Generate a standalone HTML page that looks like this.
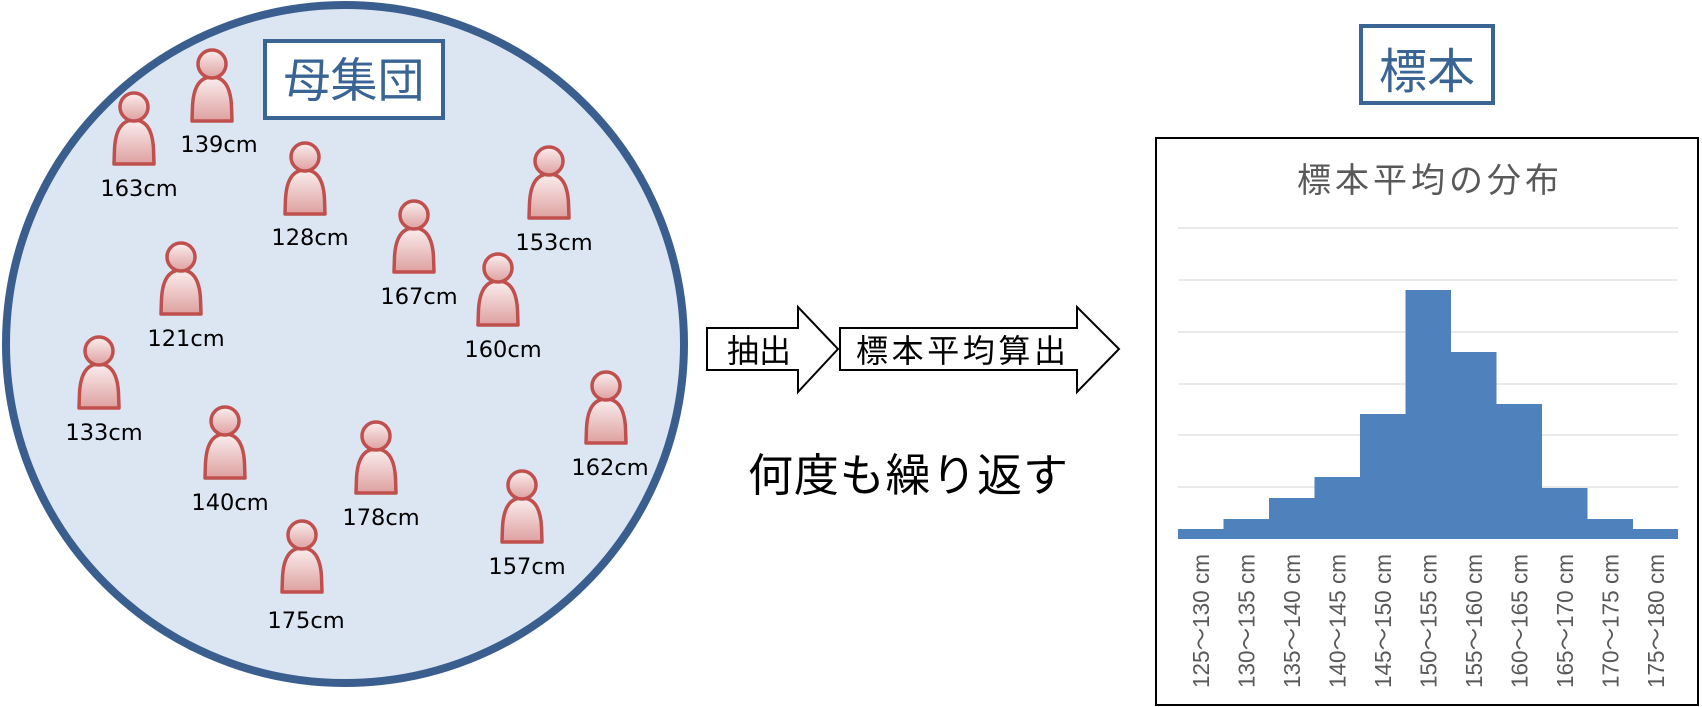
<!DOCTYPE html>
<html><head><meta charset="utf-8"><style>
html,body{margin:0;padding:0;background:#fff;}
svg{display:block;}
</style></head><body>
<svg width="1702" height="707" viewBox="0 0 1702 707" xmlns="http://www.w3.org/2000/svg">
<defs>
<linearGradient id="pg" x1="0" y1="0" x2="0" y2="1">
<stop offset="0" stop-color="#fbeeee"/><stop offset="1" stop-color="#dea0a0"/>
</linearGradient>
<g id="p">
<path d="M-20,57 L-19.5,42 Q-18,13 0,13 Q18,13 19.5,42 L20,57 Z" fill="url(#pg)" stroke="#c0504d" stroke-width="3.5" stroke-linejoin="round"/>
<circle cx="0" cy="0" r="14" fill="url(#pg)" stroke="#c0504d" stroke-width="3.5"/>
</g>
</defs>
<circle cx="345" cy="344" r="339" fill="#dce6f2" stroke="#3a5f8f" stroke-width="8"/>
<rect x="265" y="41" width="178" height="77" fill="#fff" stroke="#3a6494" stroke-width="4"/>
<text x="354" y="97" font-family="Noto Sans CJK JP, sans-serif" font-size="47" fill="#3a6494" text-anchor="middle">母集団</text>
<g font-family="DejaVu Sans, sans-serif" font-size="22.5" fill="#000" text-anchor="middle">
<use href="#p" x="212" y="64"/><text x="219" y="152">139cm</text>
<use href="#p" x="134" y="107"/><text x="139" y="196">163cm</text>
<use href="#p" x="305" y="157"/><text x="310" y="245">128cm</text>
<use href="#p" x="549" y="161"/><text x="554" y="250">153cm</text>
<use href="#p" x="414" y="215"/><text x="419" y="304">167cm</text>
<use href="#p" x="498" y="268"/><text x="503" y="357">160cm</text>
<use href="#p" x="181" y="257"/><text x="186" y="346">121cm</text>
<use href="#p" x="99" y="351"/><text x="104" y="440">133cm</text>
<use href="#p" x="225" y="421"/><text x="230" y="510">140cm</text>
<use href="#p" x="376" y="436"/><text x="381" y="525">178cm</text>
<use href="#p" x="606" y="386"/><text x="610" y="475">162cm</text>
<use href="#p" x="522" y="485"/><text x="527" y="574">157cm</text>
<use href="#p" x="302" y="535"/><text x="306" y="628">175cm</text>
</g>
<path d="M707,328 L798,328 L798,307 L838,349 L798,392 L798,370 L707,370 Z" fill="#fff" stroke="#000" stroke-width="2"/>
<path d="M840,328 L1077,328 L1077,307 L1119,349 L1077,392 L1077,370 L840,370 Z" fill="#fff" stroke="#000" stroke-width="2"/>
<g font-family="Noto Sans CJK JP, sans-serif" font-size="32" fill="#000">
<text x="727" y="362">抽出</text>
<text x="856" y="362" textLength="210" lengthAdjust="spacing">標本平均算出</text>
</g>
<text x="748" y="491" font-family="Noto Sans CJK JP, sans-serif" font-size="45" fill="#000" textLength="320" lengthAdjust="spacing">何度も繰り返す</text>
<rect x="1361" y="26" width="132" height="77" fill="#fff" stroke="#3a6494" stroke-width="4"/>
<text x="1427" y="88" font-family="Noto Sans CJK JP, sans-serif" font-size="48" fill="#3a6494" text-anchor="middle">標本</text>
<rect x="1156" y="138" width="542" height="567" fill="#fff" stroke="#000" stroke-width="2"/>
<text x="1428" y="192" font-family="Noto Sans CJK JP, sans-serif" font-size="34" fill="#595959" text-anchor="middle" textLength="262" lengthAdjust="spacing">標本平均の分布</text>
<g stroke="#e3e3e3" stroke-width="1.5">
<line x1="1178" y1="228" x2="1678" y2="228"/>
<line x1="1178" y1="280" x2="1678" y2="280"/>
<line x1="1178" y1="332" x2="1678" y2="332"/>
<line x1="1178" y1="384" x2="1678" y2="384"/>
<line x1="1178" y1="435" x2="1678" y2="435"/>
<line x1="1178" y1="487" x2="1678" y2="487"/>
</g>
<path fill="#4f81bd" d="M1178,539 L1178,529 L1223.5,529 L1223.5,519 L1269,519 L1269,498 L1314.5,498 L1314.5,477 L1360,477 L1360,414 L1405.5,414 L1405.5,290 L1451,290 L1451,352 L1496.5,352 L1496.5,404 L1542,404 L1542,488 L1587.5,488 L1587.5,519 L1633,519 L1633,529 L1678,529 L1678,539 Z"/>
<g font-family="Liberation Sans, Noto Sans CJK JP, sans-serif" font-size="23" fill="#595959" text-anchor="end">
<text transform="translate(1209,554) rotate(-90)" textLength="134" lengthAdjust="spacingAndGlyphs">125～130 cm</text>
<text transform="translate(1254.5,554) rotate(-90)" textLength="134" lengthAdjust="spacingAndGlyphs">130～135 cm</text>
<text transform="translate(1300,554) rotate(-90)" textLength="134" lengthAdjust="spacingAndGlyphs">135～140 cm</text>
<text transform="translate(1345.5,554) rotate(-90)" textLength="134" lengthAdjust="spacingAndGlyphs">140～145 cm</text>
<text transform="translate(1391,554) rotate(-90)" textLength="134" lengthAdjust="spacingAndGlyphs">145～150 cm</text>
<text transform="translate(1436.5,554) rotate(-90)" textLength="134" lengthAdjust="spacingAndGlyphs">150～155 cm</text>
<text transform="translate(1482,554) rotate(-90)" textLength="134" lengthAdjust="spacingAndGlyphs">155～160 cm</text>
<text transform="translate(1527.5,554) rotate(-90)" textLength="134" lengthAdjust="spacingAndGlyphs">160～165 cm</text>
<text transform="translate(1573,554) rotate(-90)" textLength="134" lengthAdjust="spacingAndGlyphs">165～170 cm</text>
<text transform="translate(1618.5,554) rotate(-90)" textLength="134" lengthAdjust="spacingAndGlyphs">170～175 cm</text>
<text transform="translate(1664,554) rotate(-90)" textLength="134" lengthAdjust="spacingAndGlyphs">175～180 cm</text>
</g>
</svg>
</body></html>
